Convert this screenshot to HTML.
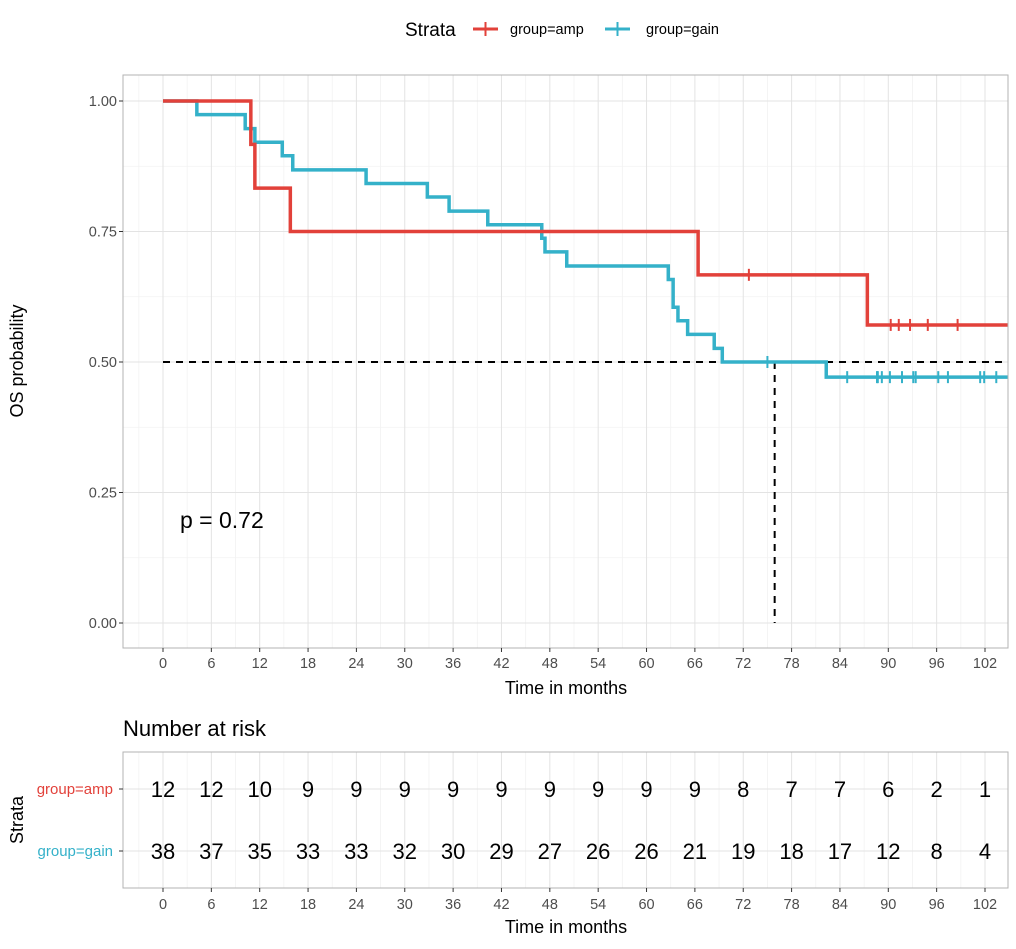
<!DOCTYPE html>
<html><head><meta charset="utf-8">
<style>
body{margin:0;background:#fff;font-family:"Liberation Sans",sans-serif;}
svg text{font-family:"Liberation Sans",sans-serif;}
</style></head>
<body>
<svg id="chart" width="1016" height="944" xmlns="http://www.w3.org/2000/svg">
<g>
<text x="405" y="36" font-size="19" fill="#000">Strata</text>
<g>
<line x1="473" y1="29" x2="498" y2="29" stroke="#e2413a" stroke-width="3"/><line x1="485.5" y1="22" x2="485.5" y2="36" stroke="#e2413a" stroke-width="2"/>
<text x="510" y="34" font-size="14.5" fill="#000">group=amp</text></g>
<g>
<line x1="605" y1="29" x2="630" y2="29" stroke="#34b1c9" stroke-width="3"/><line x1="617.5" y1="22" x2="617.5" y2="36" stroke="#34b1c9" stroke-width="2"/>
<text x="646" y="34" font-size="14.5" fill="#000">group=gain</text></g>
</g>
<g id="main"></g>
<g id="risk"></g>
</svg>
<script>
const ampTimes=[10.9,11.4,15.8,66.4,87.4];
const ampSurv=[0.917,0.833,0.75,0.667,0.571];
const ampCensor=[72.7,90.3,91.3,92.7,94.9,98.6];
const gainTimes=[4.2,10.2,11.4,14.8,16.1,25.2,32.8,35.5,40.3,47.0,47.4,50.1,62.7,63.3,63.9,65.1,68.4,69.4,82.3];
const gainSurv=[0.974,0.947,0.921,0.895,0.868,0.842,0.816,0.789,0.763,0.737,0.711,0.684,0.658,0.605,0.579,0.553,0.526,0.5,0.471];
const gainCensor=[75.0,84.9,88.6,88.7,89.2,90.2,91.7,93.1,93.4,96.2,97.4,101.4,101.9,103.4];
const endTime=104.85;
const medianTime=75.9;
const pText="p = 0.72";
const xTicks=[0,6,12,18,24,30,36,42,48,54,60,66,72,78,84,90,96,102];
const yTicks=[0,0.25,0.5,0.75,1];
const yTickLabels=["0.00","0.25","0.50","0.75","1.00"];
const riskAmp=[12,12,10,9,9,9,9,9,9,9,9,9,8,7,7,6,2,1];
const riskGain=[38,37,35,33,33,32,30,29,27,26,26,21,19,18,17,12,8,4];
const riskGroups=["group=amp","group=gain"];

const NS="http://www.w3.org/2000/svg";
const L=123,R=1008,T=75,B=648;
const X=m=>163+m*(985-163)/102;
const Y=v=>623-v*(623-101);
function mk(parent,tag,attrs,text){const e=document.createElementNS(NS,tag);for(const k in attrs)e.setAttribute(k,attrs[k]);if(text!==undefined)e.textContent=text;parent.appendChild(e);return e;}
const main=document.getElementById('main');
for(let m=-3;m<=105;m+=6){if(X(m)>L&&X(m)<R)mk(main,'line',{x1:X(m),x2:X(m),y1:T,y2:B,stroke:'#f2f2f2','stroke-width':0.8});}
for(let v=0.125;v<1.05;v+=0.25)mk(main,'line',{x1:L,x2:R,y1:Y(v),y2:Y(v),stroke:'#f2f2f2','stroke-width':0.8});
xTicks.forEach(t=>{mk(main,'line',{x1:X(t),x2:X(t),y1:T,y2:B,stroke:'#e3e3e3','stroke-width':1});});
yTicks.forEach(t=>{mk(main,'line',{x1:L,x2:R,y1:Y(t),y2:Y(t),stroke:'#e3e3e3','stroke-width':1});});
const dh=mk(main,'line',{x1:X(0),x2:R,y1:Y(0.5),y2:Y(0.5),stroke:'#000','stroke-width':2,'stroke-dasharray':'7,6'});

const dv=mk(main,'line',{x1:X(medianTime),x2:X(medianTime),y1:Y(0.5),y2:Y(0),stroke:'#000','stroke-width':2,'stroke-dasharray':'7,6'});

function curve(times,surv,censor,color,name){
  let d=`M${X(0)},${Y(1)}`;
  times.forEach((t,i)=>{d+=`H${X(t)}V${Y(surv[i])}`;});
  d+=`H${X(endTime)}`;
  const p=mk(main,'path',{d:d,fill:'none',stroke:color,'stroke-width':3.5});
  
  censor.forEach(c=>{let v=1;times.forEach((t,i)=>{if(t<=c)v=surv[i];});
    const ce=mk(main,'line',{x1:X(c),x2:X(c),y1:Y(v)-6,y2:Y(v)+6,stroke:color,'stroke-width':2});
    });
}
curve(gainTimes,gainSurv,gainCensor,'#34b1c9','gain');
curve(ampTimes,ampSurv,ampCensor,'#e2413a','amp');
mk(main,'rect',{x:L,y:T,width:R-L,height:B-T,fill:'none',stroke:'#b3b3b3','stroke-width':1});
xTicks.forEach(t=>{mk(main,'line',{x1:X(t),x2:X(t),y1:B,y2:B+4,stroke:'#333'});
  const tl=mk(main,'text',{x:X(t),y:B+20,'font-size':14.5,fill:'#4d4d4d','text-anchor':'middle'},String(t));
  });
yTicks.forEach((t,i)=>{mk(main,'line',{x1:L-4,x2:L,y1:Y(t),y2:Y(t),stroke:'#333'});
  const tl=mk(main,'text',{x:L-6,y:Y(t)+5,'font-size':14.5,fill:'#4d4d4d','text-anchor':'end'},yTickLabels[i]);
  });
const xt=mk(main,'text',{x:566,y:694,'font-size':18,fill:'#000','text-anchor':'middle'},'Time in months');

const yt=mk(main,'text',{x:23,y:361,'font-size':18,fill:'#000','text-anchor':'middle',transform:'rotate(-90 23 361)'},'OS probability');

const pv=mk(main,'text',{x:180,y:528,'font-size':23,fill:'#000'},pText);


const risk=document.getElementById('risk');
const RT=752,RB=888,rowY=[789,851];
const ttl=mk(risk,'text',{x:123,y:736,'font-size':22,fill:'#000'},'Number at risk');

for(let m=-3;m<=105;m+=6){if(X(m)>L&&X(m)<R)mk(risk,'line',{x1:X(m),x2:X(m),y1:RT,y2:RB,stroke:'#f2f2f2','stroke-width':0.8});}
xTicks.forEach(t=>mk(risk,'line',{x1:X(t),x2:X(t),y1:RT,y2:RB,stroke:'#e3e3e3'}));
rowY.forEach(y=>mk(risk,'line',{x1:L,x2:R,y1:y,y2:y,stroke:'#e3e3e3'}));
mk(risk,'rect',{x:L,y:RT,width:R-L,height:RB-RT,fill:'none',stroke:'#b3b3b3'});
[riskAmp,riskGain].forEach((arr,r)=>{arr.forEach((n,i)=>{
  const c=mk(risk,'text',{x:X(xTicks[i]),y:rowY[r]+8,'font-size':22,fill:'#000','text-anchor':'middle'},String(n));
  });});
const gc=['#e2413a','#34b1c9'];
riskGroups.forEach((g,r)=>{mk(risk,'line',{x1:L-4,x2:L,y1:rowY[r],y2:rowY[r],stroke:'#333'});
  const gl=mk(risk,'text',{x:113,y:rowY[r]+5,'font-size':15,fill:gc[r],'text-anchor':'end'},g);
  });
xTicks.forEach(t=>{mk(risk,'line',{x1:X(t),x2:X(t),y1:RB,y2:RB+4,stroke:'#333'});
  const tl=mk(risk,'text',{x:X(t),y:RB+21,'font-size':14.5,fill:'#4d4d4d','text-anchor':'middle'},String(t));
  });
const rx=mk(risk,'text',{x:566,y:933,'font-size':18,fill:'#000','text-anchor':'middle'},'Time in months');

const ry=mk(risk,'text',{x:23,y:820,'font-size':18,fill:'#000','text-anchor':'middle',transform:'rotate(-90 23 820)'},'Strata');

</script>
</body></html>
